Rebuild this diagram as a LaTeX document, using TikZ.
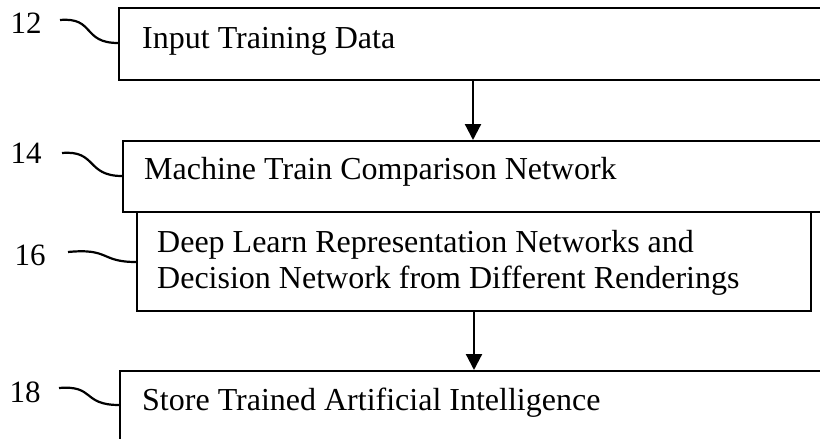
\documentclass[tikz,border=0pt]{standalone}
\usepackage{fontspec}
\setmainfont{Liberation Serif}
\usetikzlibrary{arrows.meta}
\begin{document}
\begin{tikzpicture}[x=1pt,y=-1pt,
  box/.style={draw=black,line width=2.3pt,rectangle,anchor=north west,inner sep=0pt},
  txt/.style={anchor=base west,inner sep=0pt,font=\fontsize{32}{37}\selectfont},
  lbl/.style={anchor=center,inner sep=0pt,font=\fontsize{31}{36}\selectfont},
  lead/.style={line width=2.2pt},
  arr/.style={line width=2.2pt,-{Triangle[length=16pt,width=16pt]}}]
\useasboundingbox (0,0) rectangle (820,439);
\clip (0,0) rectangle (820,439);
\fill[white] (0,0) rectangle (820,439);
% boxes
\node[box,minimum width=760pt,minimum height=72pt] (b12) at (118,7) {};
\node[box,minimum width=760pt,minimum height=71pt] (b14) at (122,140) {};
\node[box,line width=1.8pt,minimum width=674pt,minimum height=99pt] (b16) at (136,211) {};
\node[box,minimum width=760pt,minimum height=120pt] (b18) at (119,370) {};
% texts
\node[txt] (t12) at (142,48) {Input Training Data};
\node[txt] (t14) at (144,179) {Machine Train Comparison Network};
\node[txt,align=left] (t16a) at (157,252) {Deep Learn Representation Networks and};
\node[txt,align=left] (t16b) at (157,288) {Decision Network from Different Renderings};
\node[txt] (t18) at (142,410) {Store Trained Artificial Intelligence};
% labels
\node[lbl] (l12) at (26,23) {12};
\node[lbl] (l14) at (26,153) {14};
\node[lbl] (l16) at (30,255) {16};
\node[lbl] (l18) at (25,392) {18};
% leader lines
\coordinate (s12) at (60,20);
\coordinate (s14) at (62,153);
\coordinate (s16) at (68,252);
\coordinate (s18) at (59,388);
\draw[lead] (s12) .. controls (95,17) and (82,43) .. (b12.west |- 0,43);
\draw[lead] (s14) .. controls (97,150) and (86,176) .. (b14.west |- 0,176);
\draw[lead] (s16) .. controls (110,248) and (100,262) .. (b16.west |- 0,262);
\draw[lead] (s18) .. controls (95,385) and (82,405) .. (b18.west |- 0,405);
% arrows
\coordinate (ax1) at (473,0);
\coordinate (ax2) at (474,0);
\draw[arr] (b12.south -| ax1) -- (b14.north -| ax1);
\draw[arr] (b16.south -| ax2) -- (b18.north -| ax2);
\end{tikzpicture}
\end{document}
